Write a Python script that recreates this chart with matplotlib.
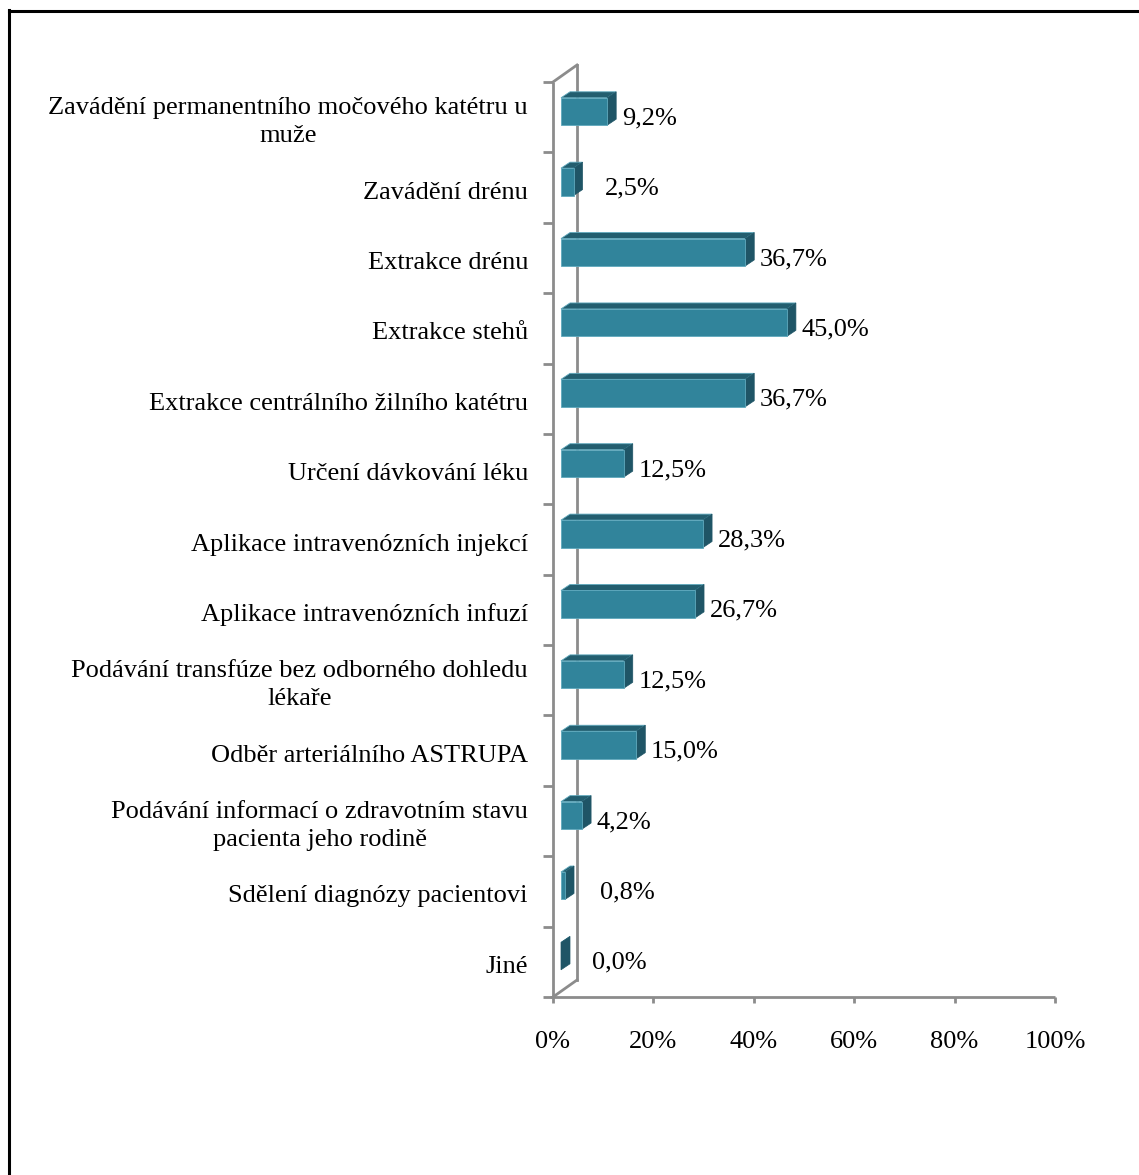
import matplotlib
matplotlib.use("Agg")
import matplotlib.pyplot as plt
from matplotlib.patches import Polygon
import numpy as np

plt.rcParams['font.family'] = ['Liberation Serif', 'DejaVu Serif']

# Categories listed from top to bottom
categories = [
    "Zavádění permanentního močového katétru u\nmuže",
    "Zavádění drénu",
    "Extrakce drénu",
    "Extrakce stehů",
    "Extrakce centrálního žilního katétru",
    "Určení dávkování léku",
    "Aplikace intravenózních injekcí",
    "Aplikace intravenózních infuzí",
    "Podávání transfúze bez odborného dohledu\nlékaře",
    "Odběr arteriálního ASTRUPA",
    "Podávání informací o zdravotním stavu\npacienta jeho rodině",
    "Sdělení diagnózy pacientovi",
    "Jiné",
]
values = [9.2, 2.5, 36.7, 45.0, 36.7, 12.5, 28.3, 26.7, 12.5, 15.0, 4.2, 0.8, 0.0]
value_labels = ["9,2%", "2,5%", "36,7%", "45,0%", "36,7%", "12,5%", "28,3%",
                "26,7%", "12,5%", "15,0%", "4,2%", "0,8%", "0,0%"]
xticks = [0, 20, 40, 60, 80, 100]
xtick_labels = ["0%", "20%", "40%", "60%", "80%", "100%"]

W, H, DPI = 1139, 1175, 100
fig = plt.figure(figsize=(W / DPI, H / DPI), dpi=DPI)
fig.patch.set_facecolor("white")

# outer chart border (open on the right and bottom)
fig.add_artist(plt.Line2D([8.5 / W, 8.5 / W], [0, 1 - 10 / H], color="black", lw=2.2,
                          transform=fig.transFigure))
fig.add_artist(plt.Line2D([8.5 / W, 1], [1 - 10.5 / H, 1 - 10.5 / H], color="black", lw=2.2,
                          transform=fig.transFigure))

ax = fig.add_axes([553 / W, 1 - 997 / H, 502 / W, (997 - 82) / H])
n = len(categories)
ax.set_xlim(0, 100)
ax.set_ylim(n - 0.5, -0.5)
for s in ax.spines.values():
    s.set_visible(False)
ax.patch.set_alpha(0)

# pixel -> data conversion (y grows downward in data, upward in pixels)
ppx = 502 / 100.0                        # pixels per percent
ppy = (997 - 82) / n                     # pixels per category
def dx(px):
    return px / ppx
def dy(px):
    return -px / ppy

wall_col = "#8C8C8C"
wall_dx, wall_dy = 24, 17

# 3-D wall outline
ax.plot([0, 0], [-0.5, n - 0.5], color=wall_col, lw=2, clip_on=False, solid_capstyle="butt")
ax.plot([dx(wall_dx)] * 2, [-0.5 + dy(wall_dy), n - 0.5 + dy(wall_dy)], color=wall_col, lw=2,
        clip_on=False)
ax.plot([0, dx(wall_dx)], [-0.5, -0.5 + dy(wall_dy)], color=wall_col, lw=2, clip_on=False)
ax.plot([0, dx(wall_dx)], [n - 0.5, n - 0.5 + dy(wall_dy)], color=wall_col, lw=2, clip_on=False)
ax.plot([dx(-3), 100], [n - 0.5, n - 0.5], color=wall_col, lw=2, clip_on=False,
        solid_capstyle="butt")

# category separator ticks on the left, value ticks at the floor
for b in np.arange(-0.5, n, 1.0):
    ax.plot([dx(-10), 0], [b, b], color=wall_col, lw=2, clip_on=False, solid_capstyle="butt")
for t in xticks:
    ax.plot([t, t], [n - 0.5, n - 0.5 + dy(-6)], color=wall_col, lw=2, clip_on=False,
            solid_capstyle="butt")
ax.set_xticks([])
ax.set_yticks([])

front_col = "#31849B"
top_col = "#235E6F"
side_col = "#1F5566"
edge_col = "#5FA9BD"

fx = dx(8)          # front face x shift
fy = dy(5.7)        # front face y shift
bdx, bdy = dx(9), dy(6)
half = 13.7 / ppy

for i, v in enumerate(values):
    yc = i + fy
    y0, y1 = yc - half, yc + half
    x0, x1 = fx, fx + v
    # top face
    ax.add_patch(Polygon([(x0, y0), (x1, y0), (x1 + bdx, y0 + bdy), (x0 + bdx, y0 + bdy)],
                         closed=True, facecolor=top_col, edgecolor=edge_col, lw=0.6,
                         clip_on=False, zorder=3))
    # side face
    ax.add_patch(Polygon([(x1, y0), (x1 + bdx, y0 + bdy), (x1 + bdx, y1 + bdy), (x1, y1)],
                         closed=True, facecolor=side_col, edgecolor=side_col, lw=0.5,
                         clip_on=False, zorder=3))
    # front face
    if v > 0:
        ax.add_patch(Polygon([(x0, y0), (x1, y0), (x1, y1), (x0, y1)], closed=True,
                             facecolor=front_col, edgecolor=edge_col, lw=0.6,
                             clip_on=False, zorder=4))

fs = 19
label_nudge = {1: 3.4, 11: 4.1, 12: 3.3}
for i, (v, lab) in enumerate(zip(values, value_labels)):
    x = v + 4.5 + label_nudge.get(i, 0)
    ax.text(x, i + dy(-1), lab, ha="left", va="center", fontsize=fs, clip_on=False)

for i, c in enumerate(categories):
    ax.text(dx(-25), i + dy(-5), c, ha="right", va="center", multialignment="center",
            fontsize=fs, linespacing=1.38, clip_on=False)

for t, lab in zip(xticks, xtick_labels):
    ax.text(t, n - 0.5 + dy(-45), lab, ha="center", va="center", fontsize=fs, clip_on=False)

fig.savefig("out.png", dpi=DPI, facecolor="white")
